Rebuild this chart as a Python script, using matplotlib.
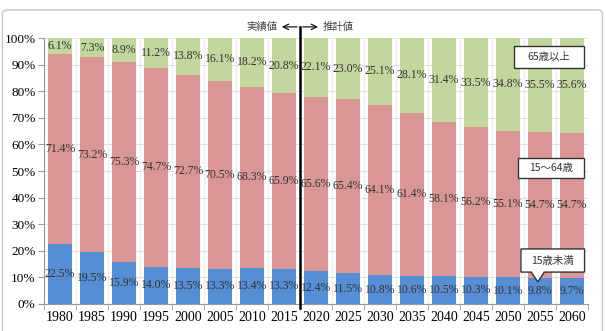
import numpy as np
import matplotlib.pyplot as plt
import matplotlib.patches as patches

years = ['1980', '1985', '1990', '1995', '2000', '2005', '2010', '2015', '2020',
         '2025', '2030', '2035', '2040', '2045', '2050', '2055', '2060']
under15 = [22.5, 19.5, 15.9, 14.0, 13.5, 13.3, 13.4, 13.3, 12.4,
           11.5, 10.8, 10.6, 10.5, 10.3, 10.1, 9.8, 9.7]
working = [71.4, 73.2, 75.3, 74.7, 72.7, 70.5, 68.3, 65.9, 65.6,
           65.4, 64.1, 61.4, 58.1, 56.2, 55.1, 54.7, 54.7]
elderly = [6.1, 7.3, 8.9, 11.2, 13.8, 16.1, 18.2, 20.8, 22.1,
           23.0, 25.1, 28.1, 31.4, 33.5, 34.8, 35.5, 35.6]

colors = ['#558ED5', '#D99694', '#C3D69B']
serif = ['Liberation Serif', 'DejaVu Serif']
jp = ['Noto Sans CJK JP', 'DejaVu Sans']

a = np.array(under15)
b = np.array(working)
c = np.array(elderly)
tot = a + b + c
a_n, b_n, c_n = a / tot * 100, b / tot * 100, c / tot * 100

fig = plt.figure(figsize=(6.06, 3.31), dpi=100)
ax = fig.add_axes([0.0726, 0.0816, 0.8974, 0.8034])

# outer frame
fig.patches.append(patches.FancyBboxPatch((0.004, -0.02), 0.99, 0.99,
                   boxstyle='round,pad=0,rounding_size=0.01',
                   transform=fig.transFigure, fill=False,
                   edgecolor='#C8C8C8', linewidth=1.0))

x = np.arange(len(years))
w = 0.75
ax.bar(x, a_n, w, color=colors[0], zorder=2)
ax.bar(x, b_n, w, bottom=a_n, color=colors[1], zorder=2)
ax.bar(x, c_n, w, bottom=a_n + b_n, color=colors[2], zorder=2)

lab_kw = dict(ha='center', va='center', fontsize=8.5, color='#333333',
              family=serif, zorder=4)
for i in range(len(years)):
    ax.text(x[i], a_n[i] / 2, f'{under15[i]:.1f}%', **lab_kw)
    ax.text(x[i], a_n[i] + b_n[i] / 2, f'{working[i]:.1f}%', **lab_kw)
    ax.text(x[i], a_n[i] + b_n[i] + c_n[i] / 2, f'{elderly[i]:.1f}%', **lab_kw)

ax.set_xlim(-0.5, len(years) - 0.5)
ax.set_ylim(0, 100)
ax.set_yticks(np.arange(0, 101, 10))
ax.set_yticklabels([f'{v}%' for v in range(0, 101, 10)], family=serif, fontsize=9.5)
ax.set_xticks(x)
ax.set_xticklabels(years, family=serif, fontsize=10)
ax.set_xticks(np.arange(-0.5, len(years), 1), minor=True)
ax.tick_params(axis='x', which='major', length=0, pad=5)
ax.tick_params(axis='x', which='minor', length=4, color='#999999')
ax.tick_params(axis='y', length=4, color='#999999', pad=2)
ax.grid(axis='y', color='#E0E0E0', linewidth=0.8, zorder=0)
ax.grid(axis='x', which='minor', color='#EBEBEB', linewidth=0.8, zorder=0)
for s in ['top', 'right']:
    ax.spines[s].set_visible(False)
for s in ['left', 'bottom']:
    ax.spines[s].set_color('#999999')

# divider between actual and projected
ax.plot([7.5, 7.5], [-1.5, 104.2], color='black', linewidth=1.8,
        clip_on=False, zorder=5)
ax.annotate('', xy=(6.85, 104.2), xytext=(7.5, 104.2),
            arrowprops=dict(arrowstyle='->', color='black', lw=0.8),
            annotation_clip=False)
ax.annotate('', xy=(8.15, 104.2), xytext=(7.5, 104.2),
            arrowprops=dict(arrowstyle='->', color='black', lw=0.8),
            annotation_clip=False)
ax.text(6.8, 104.2, '実績値', ha='right', va='center', fontsize=7.5,
        family=jp, color='#444444')
ax.text(8.2, 104.2, '推計値', ha='left', va='center', fontsize=7.5,
        family=jp, color='#444444')

# legend boxes (axes coordinates)
def label_box(x0, x1, y0, y1, text, tip=None):
    if tip is None:
        verts = [(x0, y0), (x1, y0), (x1, y1), (x0, y1)]
    else:
        tx, ty = tip
        verts = [(x0, y0), (tx - 0.012, y0), (tx, ty), (tx + 0.012, y0),
                 (x1, y0), (x1, y1), (x0, y1)]
    ax.add_patch(patches.Polygon(verts, closed=True, transform=ax.transAxes,
                                 facecolor='white', edgecolor='#333333',
                                 linewidth=1.0, clip_on=False, zorder=6))
    ax.text((x0 + x1) / 2, (y0 + y1) / 2, text, transform=ax.transAxes,
            ha='center', va='center', fontsize=7.5, family=jp,
            color='#333333', zorder=7)

label_box(0.864, 0.993, 0.887, 0.970, '65歳以上')
label_box(0.871, 0.993, 0.474, 0.549, '15〜64歳')
label_box(0.877, 0.994, 0.120, 0.207, '15歳未満', tip=(0.908, 0.083))

fig.savefig('out.png', dpi=100)
